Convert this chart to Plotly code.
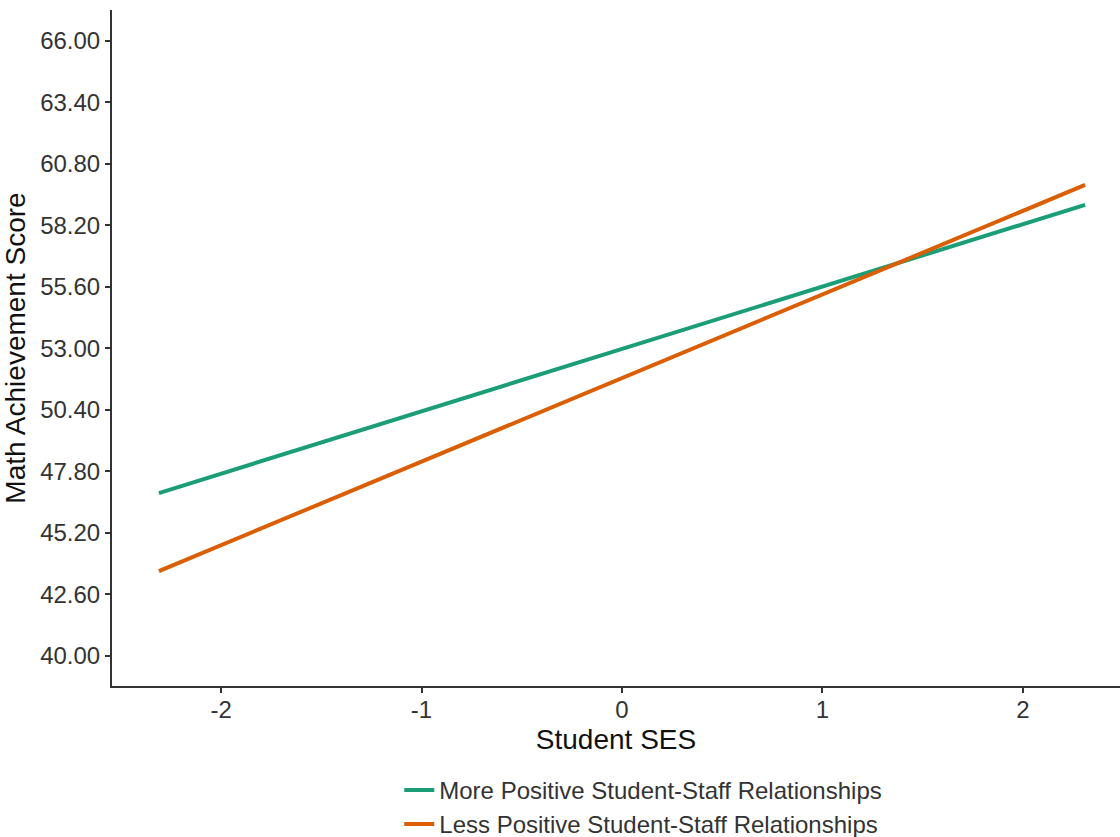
import plotly.graph_objects as go

# Student SES endpoints of each fitted line
ses = [-2.31, 2.31]

# Predicted math achievement at the SES endpoints
more_positive = [46.88, 59.07]
less_positive = [43.58, 59.91]

series_names = [
    "More Positive Student-Staff Relationships",
    "Less Positive Student-Staff Relationships",
]
series_colors = ["#1b9e77", "#d95f02"]

y_ticks = [40.0, 42.6, 45.2, 47.8, 50.4, 53.0, 55.6, 58.2, 60.8, 63.4, 66.0]
x_ticks = [-2, -1, 0, 1, 2]

font_family = "Arial, Liberation Sans, sans-serif"
ink = "#333333"

fig = go.Figure()
for name, values, color in zip(series_names, [more_positive, less_positive], series_colors):
    fig.add_trace(go.Scatter(
        x=ses, y=values, mode="lines", name=name,
        line=dict(color=color, width=4),
    ))

fig.update_layout(
    width=1120, height=837,
    margin=dict(l=112, r=0, t=10, b=151, autoexpand=False),
    paper_bgcolor="white", plot_bgcolor="white",
    font=dict(family=font_family, color=ink, size=24),
    legend=dict(
        orientation="v",
        x=0.285, xanchor="left",
        y=-0.121, yanchor="top",
        font=dict(size=24, color=ink),
        itemwidth=30,
        tracegroupgap=0,
        bgcolor="rgba(0,0,0,0)",
    ),
)

fig.update_xaxes(
    range=[-2.544, 2.484],
    tickvals=x_ticks, ticktext=[str(v) for v in x_ticks],
    showgrid=False, zeroline=False,
    showline=True, linecolor=ink, linewidth=2,
    ticks="outside", ticklen=5, tickwidth=2, tickcolor=ink,
    tickfont=dict(size=24, color=ink),
    ticklabelstandoff=-4,
    title=dict(text="Student SES", font=dict(size=28, color="#111111"), standoff=8),
)
fig.update_yaxes(
    range=[38.72, 67.31],
    tickvals=y_ticks, ticktext=[f"{v:.2f}" for v in y_ticks],
    showgrid=False, zeroline=False,
    showline=True, linecolor=ink, linewidth=2,
    ticks="outside", ticklen=5, tickwidth=2, tickcolor=ink,
    tickfont=dict(size=24, color=ink),
    title=dict(text="Math Achievement Score", font=dict(size=28, color="#111111"), standoff=10),
)

fig.write_html("out.html")
